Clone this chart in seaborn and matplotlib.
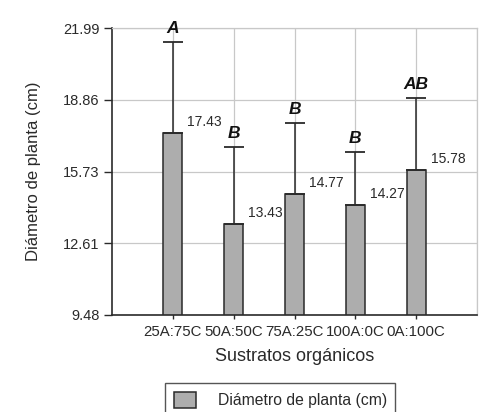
import matplotlib
matplotlib.use("Agg")
import matplotlib.pyplot as plt
import seaborn as sns
import pandas as pd
from matplotlib.patches import Patch

# Substrate mixes and mean plant diameter (cm)
categories = ["25A:75C", "50A:50C", "75A:25C", "100A:0C", "0A:100C"]
diameters = [17.43, 13.43, 14.77, 14.27, 15.78]
upper_errors = [3.95, 3.36, 3.07, 2.31, 3.15]
groups = ["A", "B", "B", "B", "AB"]
y_ticks = [9.48, 12.61, 15.73, 18.86, 21.99]
series_label = "Diámetro de planta (cm)"

sns.set_theme(style="white")
plt.rcParams["font.family"] = ["Liberation Sans", "DejaVu Sans"]

W, H = 492, 412
fig = plt.figure(figsize=(W / 100, H / 100), dpi=100)
ax = fig.add_axes([112 / W, 1 - 315 / H, (477 - 112) / W, (315 - 28) / H])

df = pd.DataFrame({"sustrato": categories, "diametro": diameters})

grid_c = "#c8c8c8"
ink = "#2a2a2a"
bar_c = "#adadad"
ax.set_axisbelow(True)
for yt in y_ticks:
    ax.axhline(yt, color=grid_c, lw=0.9, zorder=0)
for xt in range(len(categories) + 1):
    ax.axvline(xt, color=grid_c, lw=0.9, zorder=0)

sns.barplot(data=df, x="sustrato", y="diametro", color=bar_c,
            width=0.31, edgecolor=ink, linewidth=1.1, errorbar=None,
            saturation=1, ax=ax, zorder=2)

xs = list(range(len(categories)))
ax.errorbar(xs, diameters, yerr=[[0] * len(xs), upper_errors], fmt="none",
            ecolor=ink, elinewidth=1.1, capsize=7.2, capthick=1.3, zorder=3)

for x, v, e, g in zip(xs, diameters, upper_errors, groups):
    ax.annotate(f"{v:.2f}", (x, v), xytext=(23, 8), textcoords="offset points",
                ha="center", va="center", fontsize=10, color=ink, zorder=5,
                bbox=dict(boxstyle="square,pad=0.1", fc="white", ec="none"))
    ax.annotate(g, (x, v + e), xytext=(0, 10), textcoords="offset points",
                ha="center", va="center", fontsize=12.5, fontweight="bold",
                fontstyle="italic", color="#111111", zorder=5)

ax.set_xlim(-1, 5)
ax.set_ylim(y_ticks[0], y_ticks[-1])
ax.set_yticks(y_ticks)
ax.set_yticklabels([f"{t:.2f}" for t in y_ticks])
ax.set_xticks(xs)
ax.set_xticklabels(categories)

ax.tick_params(axis="y", direction="out", length=6, width=1, pad=3,
               labelsize=10.5, colors=ink, left=True)
ax.tick_params(axis="x", direction="inout", length=6, width=1, pad=4,
               labelsize=10.8, colors=ink, bottom=True)

for side in ["left", "bottom"]:
    ax.spines[side].set_color(ink)
    ax.spines[side].set_linewidth(1.2)
for side in ["top", "right"]:
    ax.spines[side].set_color(grid_c)
    ax.spines[side].set_linewidth(0.9)

ax.set_xlabel("Sustratos orgánicos", fontsize=13, color=ink, labelpad=7)
ax.set_ylabel(series_label, fontsize=12, color=ink, labelpad=16)

handle = Patch(facecolor=bar_c, edgecolor=ink, linewidth=1.1)
leg = fig.legend([handle], [series_label], loc="upper left",
                 bbox_to_anchor=(165 / W, 1 - 383 / H), fontsize=11.3,
                 frameon=True, fancybox=False, handlelength=1.45,
                 handleheight=1.2, handletextpad=1.35, borderpad=0.55,
                 borderaxespad=0)
leg.get_frame().set_edgecolor(ink)
leg.get_frame().set_linewidth(1.0)
for t in leg.get_texts():
    t.set_color(ink)

fig.savefig("out.png", dpi=100)
